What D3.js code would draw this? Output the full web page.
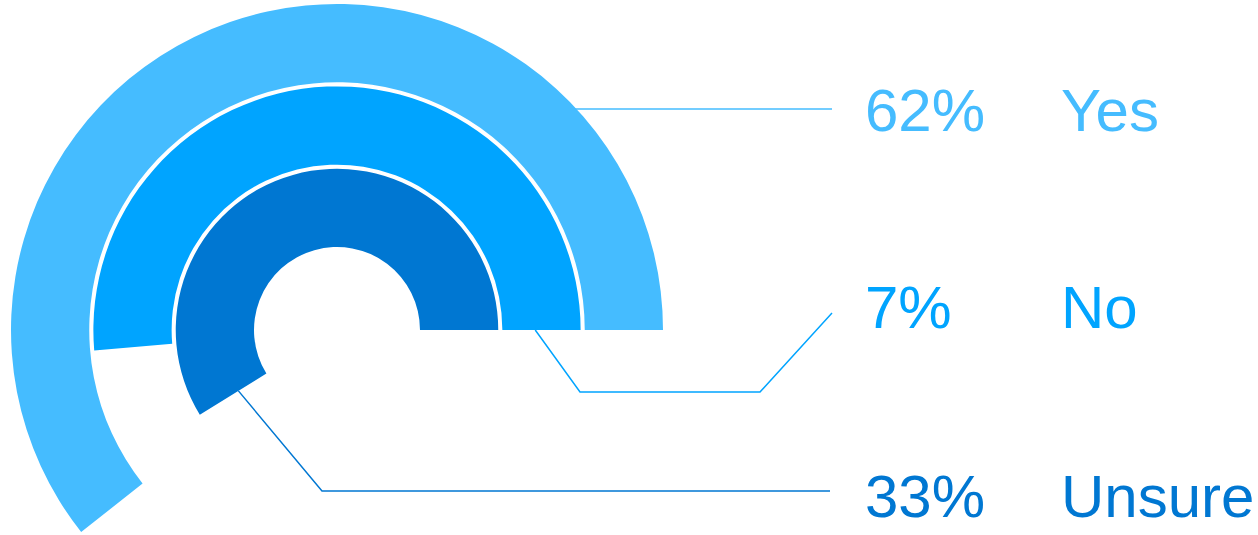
<!DOCTYPE html>
<html>
<head>
<meta charset="utf-8">
<script src="https://cdn.jsdelivr.net/npm/d3@7"></script>
<style>
  body { margin: 0; background: #fff; }
  svg { display: block; }
  text { font-family: "Liberation Sans", Arial, sans-serif; }
</style>
</head>
<body>
<div id="chart"></div>
<script>
// answers, outer ring first
const categories = ["Yes", "No", "Unsure"]
const percents = [62, 7, 33]
// how far each ring sweeps (degrees, counter-clockwise from 3 o'clock)
const sweepDeg = [218.3, 184.8, 211.7]
const colors = ["#45bcff", "#00a4ff", "#0077d2"]

const width = 1258, height = 535
const cx = 337, cy = 330

const svg = d3.select("#chart").append("svg")
    .attr("width", width)
    .attr("height", height)

const g = svg.append("g")
    .attr("transform", "translate(" + cx + "," + cy + ")")

// rings: innermost is the last category
const radius = d3.scaleBand()
    .domain(categories.slice().reverse())
    .range([83, 326])
    .paddingInner(0.05)

const angle = d3.scaleLinear()
    .domain([0, 360])
    .range([0, 2 * Math.PI])

const color = d3.scaleOrdinal()
    .domain(categories)
    .range(colors)

const rows = categories.map(function (c, i) {
    return { cat: c, pct: percents[i], sweep: sweepDeg[i] }
})

const start = Math.PI / 2   // 3 o'clock in d3.arc terms

const arc = d3.arc()
    .innerRadius(d => radius(d.cat))
    .outerRadius(d => radius(d.cat) + radius.bandwidth())
    .startAngle(start)
    .endAngle(d => start - angle(d.sweep))

g.selectAll(".ring")
    .data(rows)
    .enter()
    .append("path")
    .attr("class", "ring")
    .attr("d", arc)
    .attr("fill", d => color(d.cat))

// polar point, a in d3 convention (0 = up, clockwise)
function polar(a, r) {
    return [cx + r * Math.sin(a), cy - r * Math.cos(a)]
}

// label rows (text centre y) and leader line routes
const labelY = { Yes: 109, No: 306, Unsure: 495 }
const pctX = 865, nameX = 1061

function leader(d) {
    const r0 = radius(d.cat), bw = radius.bandwidth()
    if (d.cat === "Yes") {
        const y = 109
        const dy = y - cy
        const x = cx + Math.sqrt(Math.pow(r0 + bw, 2) - dy * dy)
        return [[x - 3, y], [832, y]]
    }
    if (d.cat === "No") {
        const p = polar(start, r0 + 0.42 * bw)
        return [p, [580, 392], [760, 392], [832, 313]]
    }
    const p = polar(start - angle(d.sweep), r0 + 0.42 * bw)
    return [p, [322, 491], [830, 491]]
}

svg.selectAll(".leader")
    .data(rows)
    .enter()
    .append("path")
    .attr("class", "leader")
    .attr("d", d => d3.line()(leader(d)))
    .attr("fill", "none")
    .attr("stroke", d => color(d.cat))
    .attr("stroke-width", 1.5)

svg.selectAll(".pct")
    .data(rows)
    .enter()
    .append("text")
    .attr("class", "pct")
    .attr("x", pctX)
    .attr("y", d => labelY[d.cat] + 22)
    .attr("font-size", 60)
    .attr("fill", d => color(d.cat))
    .text(d => d.pct + "%")

svg.selectAll(".name")
    .data(rows)
    .enter()
    .append("text")
    .attr("class", "name")
    .attr("x", nameX)
    .attr("y", d => labelY[d.cat] + 22)
    .attr("font-size", 60)
    .attr("fill", d => color(d.cat))
    .text(d => d.cat)
</script>
</body>
</html>
